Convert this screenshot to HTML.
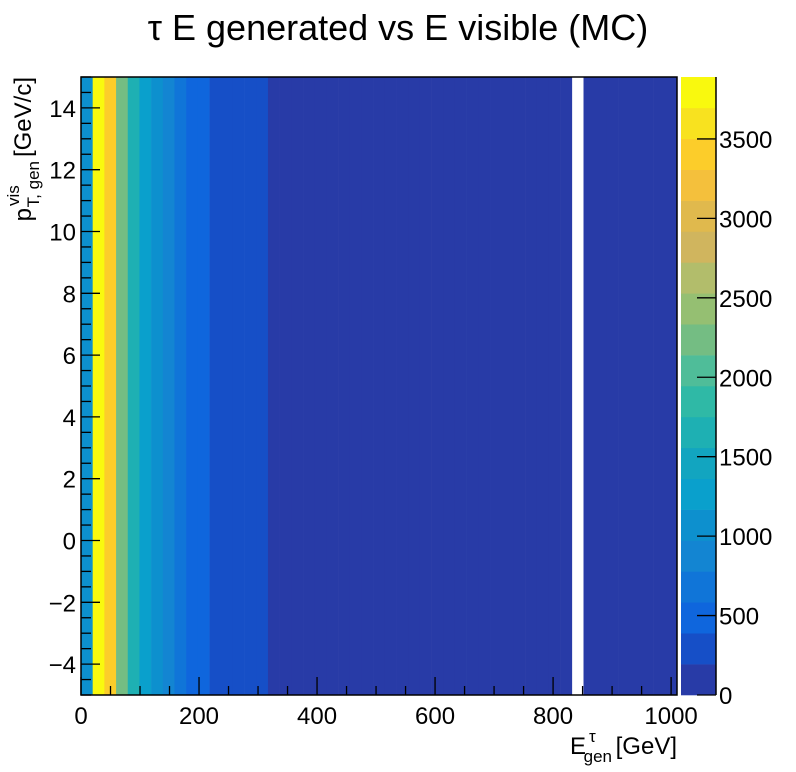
<!DOCTYPE html>
<html><head><meta charset="utf-8"><style>body{margin:0;background:#fff}svg{display:block}text{font-family:"Liberation Sans",sans-serif;fill:#000}</style></head>
<body>
<svg id="c" width="796" height="772" viewBox="0 0 796 772" xmlns="http://www.w3.org/2000/svg">
<text x="398" y="40" font-size="36" text-anchor="middle">τ E generated vs E visible (MC)</text>
<g id="cells"></g>
<g id="cbar"></g>
<g id="axes"></g>
<g font-size="24">
<text x="677" y="754" text-anchor="end">[GeV]</text>
<text x="612" y="762" font-size="17" text-anchor="end">gen</text>
<text x="586" y="754" text-anchor="end">E</text>
<text x="589" y="742" font-size="17">τ</text>
</g>
<g transform="translate(31,0) rotate(-90)" font-size="24">
<text x="-77" y="0" text-anchor="end">[GeV/c]</text>
<text x="-161" y="8" font-size="17" text-anchor="end">T, gen</text>
<text x="-208" y="0" text-anchor="end">p</text>
<text x="-206" y="-12" font-size="17">vis</text>
</g>
</svg>
<script>
const binValues=[1100,3850,3400,2250,1650,1250,1050,900,700,500,450,300,280,250,230,200,
150,130,120,110,100,90,85,80,75,70,65,60,55,50,45,42,40,38,35,33,30,28,26,24,22,20,0,18,16,15,14,13,12,11,10];
const xTicks=[0,200,400,600,800,1000];
const yTicks=[-4,-2,0,2,4,6,8,10,12,14];
const zTicks=[0,500,1000,1500,2000,2500,3000,3500];
const palette=["#283ba7","#164fc7","#0f66dd","#1075d8","#1385d2","#0d90ce","#0aa0cc","#12a5c0","#1eb0b3","#2fb9a6","#4fbd99","#74bd83","#95bf72","#b2bd6b","#d0b55e","#e0b94d","#f4c03c","#fccd2a","#f8e21f","#f9f90e"];
const X0=81,X1=677,Y0=695,Y1=77,xmin=0,xmax=1010,ymin=-5,ymax=15,zmax=3890;
const CX0=681,CX1=716;
const sx=v=>X0+(v-xmin)/(xmax-xmin)*(X1-X0);
const sy=v=>Y0-(v-ymin)/(ymax-ymin)*(Y0-Y1);
const sz=v=>Y0-v/zmax*(Y0-Y1);
const NS="http://www.w3.org/2000/svg";
function mk(t,a,p){const e=document.createElementNS(NS,t);for(const k in a)e.setAttribute(k,a[k]);p.appendChild(e);return e;}
const cells=document.getElementById('cells'),cbar=document.getElementById('cbar'),axes=document.getElementById('axes');
const bw=(xmax-xmin)/binValues.length;
binValues.forEach((v,i)=>{if(v<=0)return;
 const k=Math.min(palette.length-1,Math.floor(v/zmax*palette.length));
 const x=sx(i*bw),x2=sx((i+1)*bw);
 const r=mk('rect',{x:x,y:Y1,width:x2-x+0.3,height:Y0-Y1,fill:palette[k]},cells);
 
 });
palette.forEach((c,k)=>{const ya=sz((k+1)*zmax/palette.length),yb=sz(k*zmax/palette.length);
 const r=mk('rect',{x:CX0,y:ya,width:CX1-CX0,height:yb-ya+0.3,fill:c},cbar);
 
 });
mk('line',{x1:CX1,y1:Y1,x2:CX1,y2:Y0,stroke:'#000','stroke-width':1.5},cbar);
zTicks.forEach(v=>{const y=sz(v);mk('line',{x1:CX1-19,y1:y,x2:CX1,y2:y,stroke:'#000','stroke-width':1.3},cbar);
 const t=mk('text',{x:CX1+3,y:y+9,'font-size':24},cbar);t.textContent=v;
 
 });
mk('rect',{x:X0,y:Y1,width:X1-X0,height:Y0-Y1,fill:'none',stroke:'#000','stroke-width':1.5},axes);
for(let v=0;v<=xmax;v+=50){const x=sx(v),L=v%200===0?18:9;mk('line',{x1:x,y1:Y0,x2:x,y2:Y0-L,stroke:'#000','stroke-width':1.3},axes);}
xTicks.forEach(v=>{const t=mk('text',{x:sx(v),y:Y0+29,'font-size':24,'text-anchor':'middle'},axes);t.textContent=v;
 
 });
for(let v=ymin;v<=ymax;v+=0.5){const y=sy(v),L=(Math.abs(v%2)===0)?19:10;mk('line',{x1:X0,y1:y,x2:X0+L,y2:y,stroke:'#000','stroke-width':1.3},axes);}
yTicks.forEach(v=>{const t=mk('text',{x:X0-5,y:sy(v)+9,'font-size':24,'text-anchor':'end'},axes);t.textContent=v<0?'−'+(-v):v;
 
 });
</script>
</body></html>
